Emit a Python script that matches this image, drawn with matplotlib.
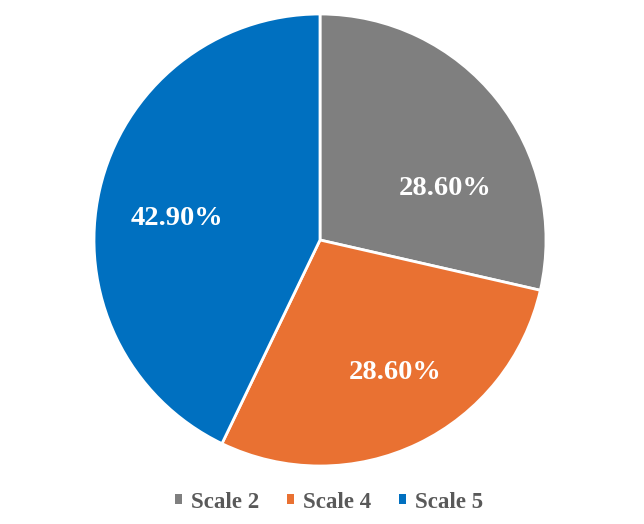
import matplotlib.pyplot as plt

labels = ["Scale 2", "Scale 4", "Scale 5"]
values = [28.6, 28.6, 42.9]
pct_labels = ["28.60%", "28.60%", "42.90%"]
colors = ["#7F7F7F", "#E97132", "#0070C0"]

plt.rcParams["font.family"] = ["Liberation Serif", "DejaVu Serif"]

fig = plt.figure(figsize=(6.44, 5.24), dpi=100)

cx, cy, r = 320, 524 - 240, 226
ax = fig.add_axes([(cx - r) / 644, (cy - r) / 524, 2 * r / 644, 2 * r / 524])

wedges, texts = ax.pie(
    values,
    colors=colors,
    startangle=90,
    counterclock=False,
    wedgeprops=dict(edgecolor="white", linewidth=2),
    radius=1
)

# label spots, like Excel places them (in radius units)
label_pos = [(0.553, 0.226), (0.332, -0.588), (-0.635, 0.094)]
for txt, (x, y) in zip(pct_labels, label_pos):
    ax.text(x, y, txt, ha="center", va="center", color="white",
            fontsize=20.5, fontweight="bold")

ax.set_xlim(-1, 1)
ax.set_ylim(-1, 1)
ax.set_aspect("equal")

leg = fig.legend(
    wedges, labels,
    loc="center",
    bbox_to_anchor=(329 / 644, 1 - 502 / 524),
    ncol=3,
    frameon=False,
    handlelength=0.3,
    handleheight=0.3,
    handletextpad=0.4,
    columnspacing=1.2,
    prop=dict(size=16.5, weight="bold")
)
for t in leg.get_texts():
    t.set_color("#595959")
for h in leg.legend_handles:
    h.set_edgecolor("none")

fig.savefig("out.png", dpi=100)
